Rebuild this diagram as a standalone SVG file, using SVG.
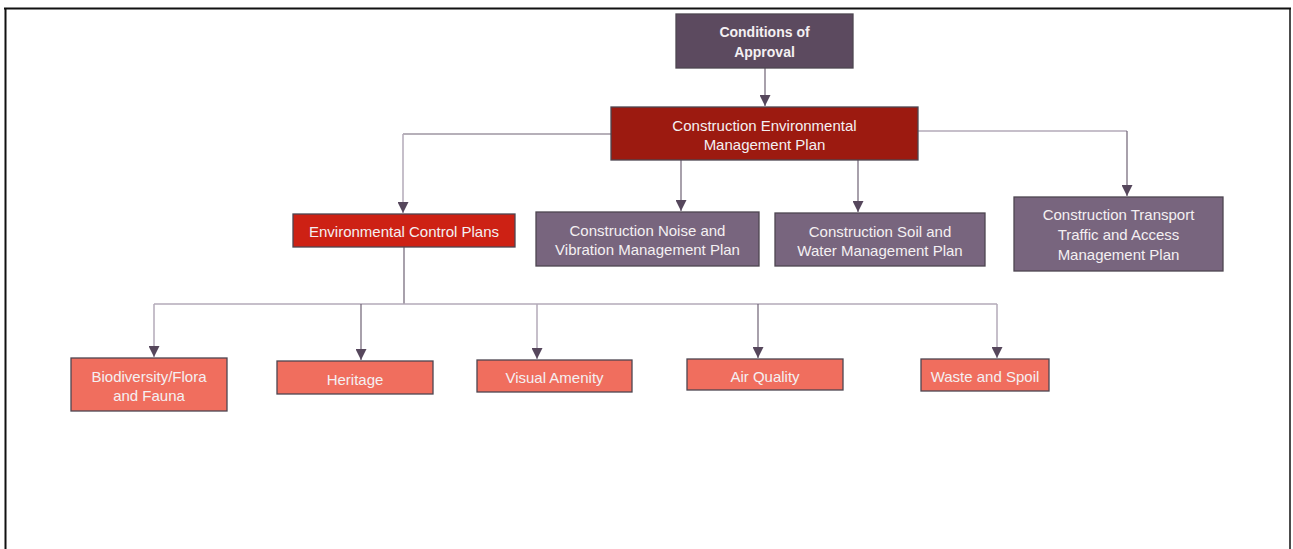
<svg xmlns="http://www.w3.org/2000/svg" width="1293" height="549" viewBox="0 0 1293 549">
<style>
.box{stroke:#4d4550;stroke-width:1.3}
.t{font-family:"Liberation Sans",Arial,sans-serif;font-size:15px;fill:#f4f0f2;text-anchor:middle;dominant-baseline:central}
.b{font-weight:bold;font-size:14px}
.cl{fill:none;stroke:#b3aab8;stroke-width:1.5}
.cd{fill:none;stroke:#6e6274;stroke-width:1.2}
</style>
<defs>
<marker id="ah" viewBox="0 0 10 10" refX="10" refY="5" markerWidth="11" markerHeight="11" markerUnits="userSpaceOnUse" orient="auto">
<path d="M0,0 L10,5 L0,10 Z" fill="#56475c"/>
</marker>
</defs>
<rect width="1293" height="549" fill="#ffffff"/>
<g id="frame" fill="none" stroke="#111">
<line x1="4" y1="8.5" x2="1291" y2="8.5" stroke-width="2.2"/>
<line x1="5.5" y1="8" x2="5.5" y2="549" stroke-width="2"/>
<line x1="1290" y1="8" x2="1290" y2="549" stroke-width="1.5"/>
</g>
<g id="connectors">
<path class="cd" d="M765,68 V106" marker-end="url(#ah)"/>
<path class="cd" d="M611,134 H403"/>
<path class="cl" d="M403,134 V213" marker-end="url(#ah)"/>
<path class="cl" d="M918,131 H1127"/>
<path class="cd" d="M1127,131 V196" marker-end="url(#ah)"/>
<path class="cd" d="M681,160 V211" marker-end="url(#ah)"/>
<path class="cd" d="M858,160 V212" marker-end="url(#ah)"/>
<path class="cd" d="M404,247 V304"/>
<path class="cl" d="M154,304 H997"/>
<path class="cl" d="M154,304 V357" marker-end="url(#ah)"/>
<path class="cd" d="M361,304 V360" marker-end="url(#ah)"/>
<path class="cl" d="M537,304 V359" marker-end="url(#ah)"/>
<path class="cd" d="M758,304 V358" marker-end="url(#ah)"/>
<path class="cl" d="M997,304 V358" marker-end="url(#ah)"/>
</g>
<g id="coa">
<rect class="box" x="676" y="14" width="177" height="54" fill="#5c4a5f"/>
<text class="t b" x="764.5" y="32">Conditions of</text>
<text class="t b" x="764.5" y="52">Approval</text>
</g>
<g id="cemp">
<rect class="box" x="611" y="107" width="307" height="53" fill="#9c1a10"/>
<text class="t" x="764.5" y="125">Construction Environmental</text>
<text class="t" x="764.5" y="144">Management Plan</text>
</g>
<g id="ecp">
<rect class="box" x="293" y="214" width="222" height="33" fill="#cd2114"/>
<text class="t" x="404" y="231">Environmental Control Plans</text>
</g>
<g id="cnvmp">
<rect class="box" x="536" y="212" width="223" height="54" fill="#78657e"/>
<text class="t" x="647.5" y="230">Construction Noise and</text>
<text class="t" x="647.5" y="249">Vibration Management Plan</text>
</g>
<g id="cswmp">
<rect class="box" x="775" y="213" width="210" height="53" fill="#78657e"/>
<text class="t" x="880" y="231">Construction Soil and</text>
<text class="t" x="880" y="250">Water Management Plan</text>
</g>
<g id="cttamp">
<rect class="box" x="1014" y="197" width="209" height="74" fill="#78657e"/>
<text class="t" x="1118.5" y="214">Construction Transport</text>
<text class="t" x="1118.5" y="234">Traffic and Access</text>
<text class="t" x="1118.5" y="254">Management Plan</text>
</g>
<g id="bio">
<rect class="box" x="71" y="358" width="156" height="53" fill="#f06e5e"/>
<text class="t" x="149" y="376">Biodiversity/Flora</text>
<text class="t" x="149" y="395">and Fauna</text>
</g>
<g id="heritage">
<rect class="box" x="277" y="361" width="156" height="33" fill="#f06e5e"/>
<text class="t" x="355" y="379">Heritage</text>
</g>
<g id="visual">
<rect class="box" x="477" y="360" width="155" height="32" fill="#f06e5e"/>
<text class="t" x="554.5" y="377">Visual Amenity</text>
</g>
<g id="air">
<rect class="box" x="687" y="359" width="156" height="31" fill="#f06e5e"/>
<text class="t" x="765" y="376">Air Quality</text>
</g>
<g id="waste">
<rect class="box" x="921" y="359" width="128" height="32" fill="#f06e5e"/>
<text class="t" x="985" y="376">Waste and Spoil</text>
</g>
</svg>
